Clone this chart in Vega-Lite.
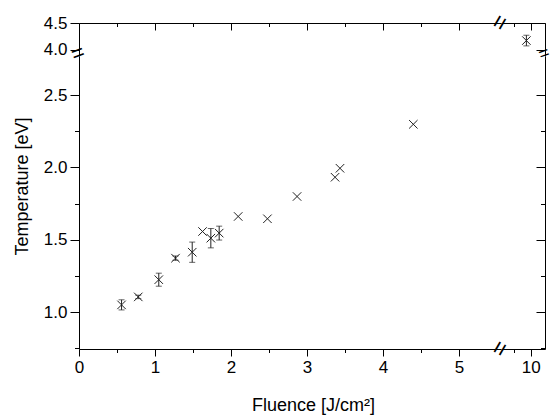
{
  "$schema": "https://vega.github.io/schema/vega-lite/v6.json",
  "padding": {"left": 13, "top": 10, "right": 8, "bottom": 5},
  "background": "white",
  "datasets": {
    "pts": [
      {"fluence": 0.56, "temp": 1.05, "err": 0.035},
      {"fluence": 0.78, "temp": 1.105, "err": 0.012},
      {"fluence": 1.05, "temp": 1.224, "err": 0.045},
      {"fluence": 1.27, "temp": 1.373, "err": 0.015},
      {"fluence": 1.49, "temp": 1.414, "err": 0.07},
      {"fluence": 1.626, "temp": 1.557, "err": 0},
      {"fluence": 1.735, "temp": 1.511, "err": 0.067},
      {"fluence": 1.845, "temp": 1.546, "err": 0.048},
      {"fluence": 2.095, "temp": 1.661, "err": 0},
      {"fluence": 2.48, "temp": 1.645, "err": 0},
      {"fluence": 2.87, "temp": 1.799, "err": 0},
      {"fluence": 3.37, "temp": 1.932, "err": 0},
      {"fluence": 3.435, "temp": 1.994, "err": 0},
      {"fluence": 4.4, "temp": 2.298, "err": 0},
      {"fluence": 9.87, "temp": 4.17, "err": 0.1}
    ]
  },
  "config": {
    "view": {"stroke": null},
    "axis": {
      "domainColor": "black", "tickColor": "black", "labelColor": "black", "titleColor": "black",
      "labelFont": "Liberation Sans", "titleFont": "Liberation Sans",
      "labelFontSize": 17, "titleFontSize": 18, "titleFontWeight": "normal",
      "grid": false, "labelOverlap": false, "labelFlush": false, "labelBound": false,
      "tickWidth": 1, "domainWidth": 1, "labelPadding": 3
    },
    "text": {"font": "Liberation Sans"}
  },
  "columns": 2,
  "spacing": 0,
  "bounds": "flush",
  "align": "each",
  "concat": [
    {
      "width": 421.7, "height": 33,
      "layer": [
        {
          "data": {"values": [{}]},
          "mark": {"type": "text", "text": "=", "fontSize": 22, "angle": -20, "baseline": "middle", "align": "center", "color": "black", "dy": -3},
          "encoding": {
            "x": {"datum": 0, "type": "quantitative", "scale": {"domain": [0, 5.55], "nice": false, "zero": false},
              "axis": {"orient": "top", "values": [0, 0.5, 1, 1.5, 2, 2.5, 3, 3.5, 4, 4.5, 5], "labels": false, "title": null,
                "tickSize": {"condition": {"test": "datum.value % 1 != 0", "value": -3.5}, "value": -7}}},
            "y": {"datum": 3.88, "type": "quantitative", "scale": {"domain": [3.88, 4.5], "nice": false, "zero": false},
              "axis": {"orient": "left", "values": [4, 4.25, 4.5], "title": null,
                "labelExpr": "datum.value % 0.5 == 0 ? format(datum.value, '.1f') : ''",
                "tickSize": {"condition": {"test": "datum.value % 0.5 != 0", "value": 4.5}, "value": 9}}}
          }
        },
        {
          "data": {"values": [{}]},
          "mark": {"type": "text", "text": "=", "fontSize": 24, "angle": -60, "baseline": "middle", "align": "center", "color": "black"},
          "encoding": {
            "x": {"datum": 5.55, "type": "quantitative"},
            "y": {"datum": 4.5, "type": "quantitative"}
          }
        }
      ]
    },
    {
      "width": 44, "height": 33,
      "layer": [
        {
          "data": {"name": "pts"},
          "transform": [{"filter": "datum.fluence > 6"}],
          "mark": {"type": "point", "shape": "M-1,-1L1,1M-1,1L1,-1", "filled": false, "color": "#222", "strokeWidth": 1, "size": 72, "opacity": 1},
          "encoding": {
            "x": {"field": "fluence", "type": "quantitative", "title": null, "scale": {"domain": [9.12, 10.42], "nice": false, "zero": false},
              "axis": {"orient": "top", "values": [9.5, 10], "labels": false, "title": null,
                "tickSize": {"condition": {"test": "datum.value % 1 != 0", "value": -3.5}, "value": -7}}},
            "y": {"field": "temp", "type": "quantitative", "title": null, "scale": {"domain": [3.88, 4.5], "nice": false, "zero": false},
              "axis": {"orient": "right", "values": [4, 4.25, 4.5], "labels": false, "title": null,
                "tickSize": {"condition": {"test": "datum.value % 0.5 != 0", "value": -4.5}, "value": -9}}}
          }
        },
        {
          "data": {"name": "pts"},
          "transform": [{"filter": "datum.fluence > 6 && datum.err > 0"}],
          "mark": {"type": "errorbar", "color": "#222", "ticks": {"size": 6}},
          "encoding": {
            "x": {"field": "fluence", "type": "quantitative", "title": null},
            "y": {"field": "temp", "type": "quantitative", "title": null},
            "yError": {"field": "err"}
          }
        },
        {
          "data": {"values": [{}]},
          "mark": {"type": "text", "text": "=", "fontSize": 18, "angle": -20, "baseline": "middle", "align": "center", "color": "black", "dy": -2},
          "encoding": {
            "x": {"datum": 10.42, "type": "quantitative"},
            "y": {"datum": 3.88, "type": "quantitative"}
          }
        }
      ]
    },
    {
      "width": 421.7, "height": 293,
      "layer": [
        {
          "data": {"name": "pts"},
          "transform": [{"filter": "datum.fluence < 6"}],
          "mark": {"type": "point", "shape": "M-1,-1L1,1M-1,1L1,-1", "filled": false, "color": "#222", "strokeWidth": 1, "size": 72, "opacity": 1},
          "encoding": {
            "x": {"field": "fluence", "type": "quantitative", "title": "Fluence [J/cm²]", "scale": {"domain": [0, 5.55], "nice": false, "zero": false},
              "axis": {"orient": "bottom", "values": [0, 0.5, 1, 1.5, 2, 2.5, 3, 3.5, 4, 4.5, 5], "title": "Fluence [J/cm²]",
                "titleX": 234, "titlePadding": 21,
                "labelExpr": "datum.value % 1 == 0 ? format(datum.value, 'd') : ''",
                "tickSize": {"condition": {"test": "datum.value % 1 != 0", "value": 3.5}, "value": 7}}},
            "y": {"field": "temp", "type": "quantitative", "title": "Temperature [eV]", "scale": {"domain": [0.745, 2.77], "nice": false, "zero": false},
              "axis": {"orient": "left", "values": [0.75, 1, 1.25, 1.5, 1.75, 2, 2.25, 2.5], "title": "Temperature [eV]",
                "titleY": 130, "titlePadding": 12,
                "labelExpr": "datum.value % 0.5 == 0 ? format(datum.value, '.1f') : ''",
                "tickSize": {"condition": {"test": "datum.value % 0.5 != 0", "value": 4.5}, "value": 9}}}
          }
        },
        {
          "data": {"name": "pts"},
          "transform": [{"filter": "datum.fluence < 6 && datum.err > 0"}],
          "mark": {"type": "errorbar", "color": "#222", "ticks": {"size": 6}},
          "encoding": {
            "x": {"field": "fluence", "type": "quantitative", "title": "Fluence [J/cm²]"},
            "y": {"field": "temp", "type": "quantitative", "title": "Temperature [eV]"},
            "yError": {"field": "err"}
          }
        },
        {
          "data": {"values": [{}]},
          "mark": {"type": "text", "text": "=", "fontSize": 24, "angle": -60, "baseline": "middle", "align": "center", "color": "black"},
          "encoding": {
            "x": {"datum": 5.55, "type": "quantitative"},
            "y": {"datum": 0.745, "type": "quantitative"}
          }
        }
      ]
    },
    {
      "width": 44, "height": 293,
      "layer": [
        {
          "data": {"values": [{}]},
          "mark": {"type": "text", "text": "", "fontSize": 10},
          "encoding": {
            "x": {"datum": 10, "type": "quantitative", "scale": {"domain": [9.12, 10.42], "nice": false, "zero": false},
              "axis": {"orient": "bottom", "values": [9.5, 10], "title": null,
                "labelExpr": "datum.value % 1 == 0 ? format(datum.value, 'd') : ''",
                "tickSize": {"condition": {"test": "datum.value % 1 != 0", "value": 3.5}, "value": 7}}},
            "y": {"datum": 1, "type": "quantitative", "scale": {"domain": [0.745, 2.77], "nice": false, "zero": false},
              "axis": {"orient": "right", "values": [0.75, 1, 1.25, 1.5, 1.75, 2, 2.25, 2.5], "labels": false, "title": null,
                "tickSize": {"condition": {"test": "datum.value % 0.5 != 0", "value": -4.5}, "value": -9}}}
          }
        }
      ]
    }
  ]
}
